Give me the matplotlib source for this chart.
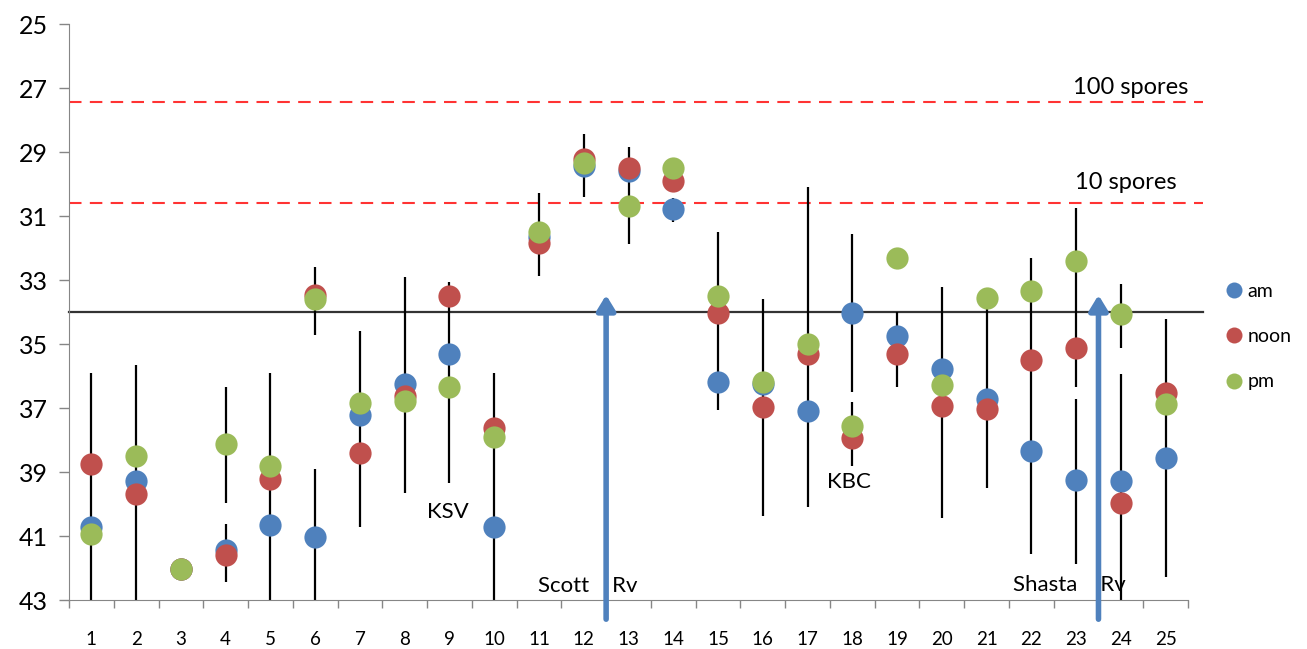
import numpy as np
from matplotlib import pyplot as plt

# categories 1..25, Ct values (y axis inverted)
cats = np.arange(1, 26)
am = [40.73, 39.28, 42.02, 41.44, 40.66, 41.04, 37.22, 36.26, 35.32, 40.71, 31.65, 29.45, 29.6,
      30.78, 36.2, 36.25, 37.08, 34.04, 34.74, 35.79, 36.71, 38.35, 39.26, 39.28, 38.57]
noon = [38.75, 39.69, 42.02, 41.6, 39.23, 33.47, 38.42, 36.63, 33.49, 37.64, 31.85, 29.23, 29.51,
        29.9, 34.04, 36.98, 35.32, 37.93, 35.3, 36.94, 37.04, 35.5, 35.14, 39.96, 36.52]
pm = [40.94, 38.5, 42.02, 38.13, 38.8, 33.6, 36.85, 36.78, 36.33, 37.9, 31.51, 29.35, 30.68,
      29.51, 33.5, 36.18, 35.01, 37.56, 32.3, 36.29, 33.55, 33.34, 32.4, 34.06, 36.89]

# error bar segments (category, low, high)
err_x = [1, 2, 4, 4, 5, 6, 6, 7, 8, 9, 10, 11, 12, 13, 14, 15, 16, 17, 18, 18,
         19, 20, 21, 22, 23, 23, 24, 24, 25]
err_lo = [35.9, 35.66, 36.35, 40.63, 35.9, 32.6, 38.9, 34.58, 32.9, 33.05, 35.9, 30.29, 28.45,
          28.84, 30.43, 31.5, 33.6, 30.08, 31.57, 36.8, 33.99, 33.23, 33.89, 32.3, 30.76, 36.71,
          33.13, 35.95, 34.22]
err_hi = [43, 43, 39.96, 42.43, 43, 34.72, 43, 40.71, 39.67, 39.33, 43, 32.88, 30.4,
          31.88, 31.2, 37.06, 40.36, 40.08, 36.49, 38.8, 36.33, 40.43, 39.51, 41.57, 36.33, 41.88,
          35.14, 43, 42.27]

spore_lines = [27.43, 30.59]
spore_labels = ["100 spores", "10 spores"]
spore_text_x = [24.23, 24.1]
spore_text_y = [27.0, 29.94]
threshold = 34
arrow_x = [12.5, 23.5]
arrow_tip = 33.47

site_labels = ["KSV", "KBC", "Scott    Rv", "Shasta    Rv"]
site_x = [8.97, 17.93, 12.1, 22.86]
site_y = [40.24, 39.3, 42.55, 42.53]

BLUE, RED, GREEN = "#4F81BD", "#C0504D", "#9BBB59"
GRAY = "#868686"

plt.rcParams['font.family'] = ['Lato', 'DejaVu Sans']

fig = plt.figure(figsize=(13.07, 6.49), dpi=100)
ax = fig.add_axes([69/1307, 1 - 600/649, (1188-69)/1307, 576/649])

ax.vlines(err_x, err_lo, err_hi, color='black', lw=1.6, zorder=2)

for vals, col, lab in [(am, BLUE, 'am'), (noon, RED, 'noon'), (pm, GREEN, 'pm')]:
    ax.plot(cats, vals, 'o', ms=16, color=col, mec='none', label=lab, zorder=3)

for y in spore_lines:
    ax.axhline(y, xmin=0, xmax=1.013, color='#FF3333', lw=1.5, ls=(0, (6, 4)), clip_on=False, zorder=1)
ax.axhline(threshold, xmin=0, xmax=1.013, color='#333333', lw=1.6, clip_on=False, zorder=1)

for lab, x, y in zip(spore_labels, spore_text_x, spore_text_y):
    ax.text(x, y, lab, fontsize=17, ha='center', va='center')

for lab, x, y in zip(site_labels, site_x, site_y):
    ax.text(x, y, lab, fontsize=16, ha='center', va='center', zorder=4)

for x in arrow_x:
    ax.annotate('', xy=(x, arrow_tip), xytext=(x, 43.6), annotation_clip=False,
                arrowprops=dict(arrowstyle='-|>,head_length=0.9,head_width=0.55',
                                color=BLUE, lw=4, shrinkA=0, shrinkB=0), zorder=5)

ax.set_xlim(0.5, 25.5)
ax.set_ylim(43, 25)
ax.set_yticks(np.arange(25, 44, 2))
ax.tick_params(axis='y', labelsize=18, length=7, width=1, color=GRAY, pad=8)
ax.set_xticks(np.arange(0.5, 26, 1))
ax.set_xticklabels([])
ax.set_xticks(cats, minor=True)
ax.set_xticklabels([str(c) for c in cats], minor=True)
ax.tick_params(axis='x', which='major', length=6, width=1, color=GRAY)
ax.tick_params(axis='x', which='minor', length=0, labelsize=13.5, pad=22)

for side in ['top', 'right']:
    ax.spines[side].set_visible(False)
for side in ['left', 'bottom']:
    ax.spines[side].set_color(GRAY)

ax.legend(loc='center left', bbox_to_anchor=(1.035, 0.457), frameon=False, fontsize=14,
          handlelength=0.7, handletextpad=0.35, labelspacing=1.45, borderpad=0, borderaxespad=0,
          markerscale=0.72)

fig.savefig("out.png", dpi=100)
